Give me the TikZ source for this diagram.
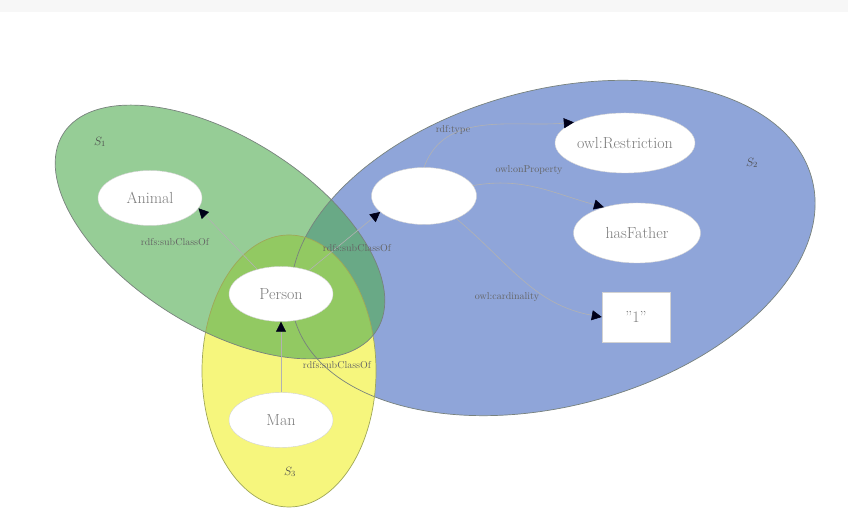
\documentclass[tikz,border=0pt]{standalone}
\usetikzlibrary{arrows.meta,shapes.geometric}
\definecolor{blueS}{RGB}{143,165,217}
\definecolor{yellowS}{RGB}{246,246,125}
\definecolor{greenS}{RGB}{80,172,80}
\definecolor{txt}{RGB}{125,125,125}
\definecolor{rim}{RGB}{120,130,125}
\begin{document}
\begin{tikzpicture}[x=1pt,y=1pt,
  ent/.style={ellipse, fill=white, draw=gray!35, text=txt, font=\fontsize{16}{18}\selectfont, inner sep=0pt},
  lit/.style={rectangle, fill=white, draw=gray!35, text=txt, font=\fontsize{16}{18}\selectfont, inner sep=0pt},
  lab/.style={font=\fontsize{10}{11}\selectfont, text=txt!80!black, inner sep=1pt},
  setlab/.style={font=\fontsize{12}{13}\selectfont, text=black!70},
  conn/.style={draw=gray!60, line width=0.6pt, -{Triangle[length=10pt,width=10pt,color=black!90!blue]}},
  rimline/.style={draw=rim, line width=0.7pt}]
\useasboundingbox (0,0) rectangle (848,518);
\fill[white] (0,0) rectangle (848,518);
\fill[gray!6] (0,506) rectangle (848,518);
% sets
\fill[blueS, rotate around={15:(553,270)}] (553,270) ellipse (268pt and 158pt);
\fill[yellowS] (289,147) ellipse (87pt and 136pt);
\fill[greenS, opacity=0.6, rotate around={-32:(220,286)}] (220,286) ellipse (185pt and 95pt);
\draw[rimline, rotate around={15:(553,270)}] (553,270) ellipse (268pt and 158pt);
\draw[rimline, draw=rim!70!yellow] (289,147) ellipse (87pt and 136pt);
\draw[rimline, rotate around={-32:(220,286)}] (220,286) ellipse (185pt and 95pt);
\node[setlab] (s1) at (100,376) {$S_1$};
\node[setlab] (s2) at (752,355) {$S_2$};
\node[setlab] (s3) at (290,46) {$S_3$};
% nodes
\node[ent, minimum width=104pt, minimum height=55pt] (animal) at (150,320) {Animal};
\node[ent, minimum width=104pt, minimum height=55pt] (person) at (281,224) {Person};
\node[ent, minimum width=104pt, minimum height=55pt] (man) at (281,98) {Man};
\node[ent, minimum width=105pt, minimum height=57pt] (blank) at (424,322) {};
\node[ent, minimum width=140pt, minimum height=60pt] (restr) at (625,375) {owl:Restriction};
\node[ent, minimum width=127pt, minimum height=60pt] (hasf) at (637,285) {hasFather};
\node[lit, minimum width=68pt, minimum height=50pt] (one) at (636,201) {"1"};
% connectors
\draw[conn] (person) -- (animal.-12);
\draw[conn] (person.40) -- (blank.200);
\draw[conn] (man) -- (person);
\draw[conn] (blank.north) to[out=70,in=185] (restr.158);
\draw[conn] (blank.12) to[out=10,in=165] (hasf.142);
\draw[conn] (blank.-35) to[out=-40,in=170] (one.west);
% labels
\node[lab] (l1) at (175,276) {rdfs:subClassOf};
\node[lab] (l2) at (357,270) {rdfs:subClassOf};
\node[lab] (l3) at (337,153) {rdfs:subClassOf};
\node[lab] (l4) at (453,388) {rdf:type};
\node[lab] (l5) at (529,348) {owl:onProperty};
\node[lab] (l6) at (507,221) {owl:cardinality};
\end{tikzpicture}
\end{document}
